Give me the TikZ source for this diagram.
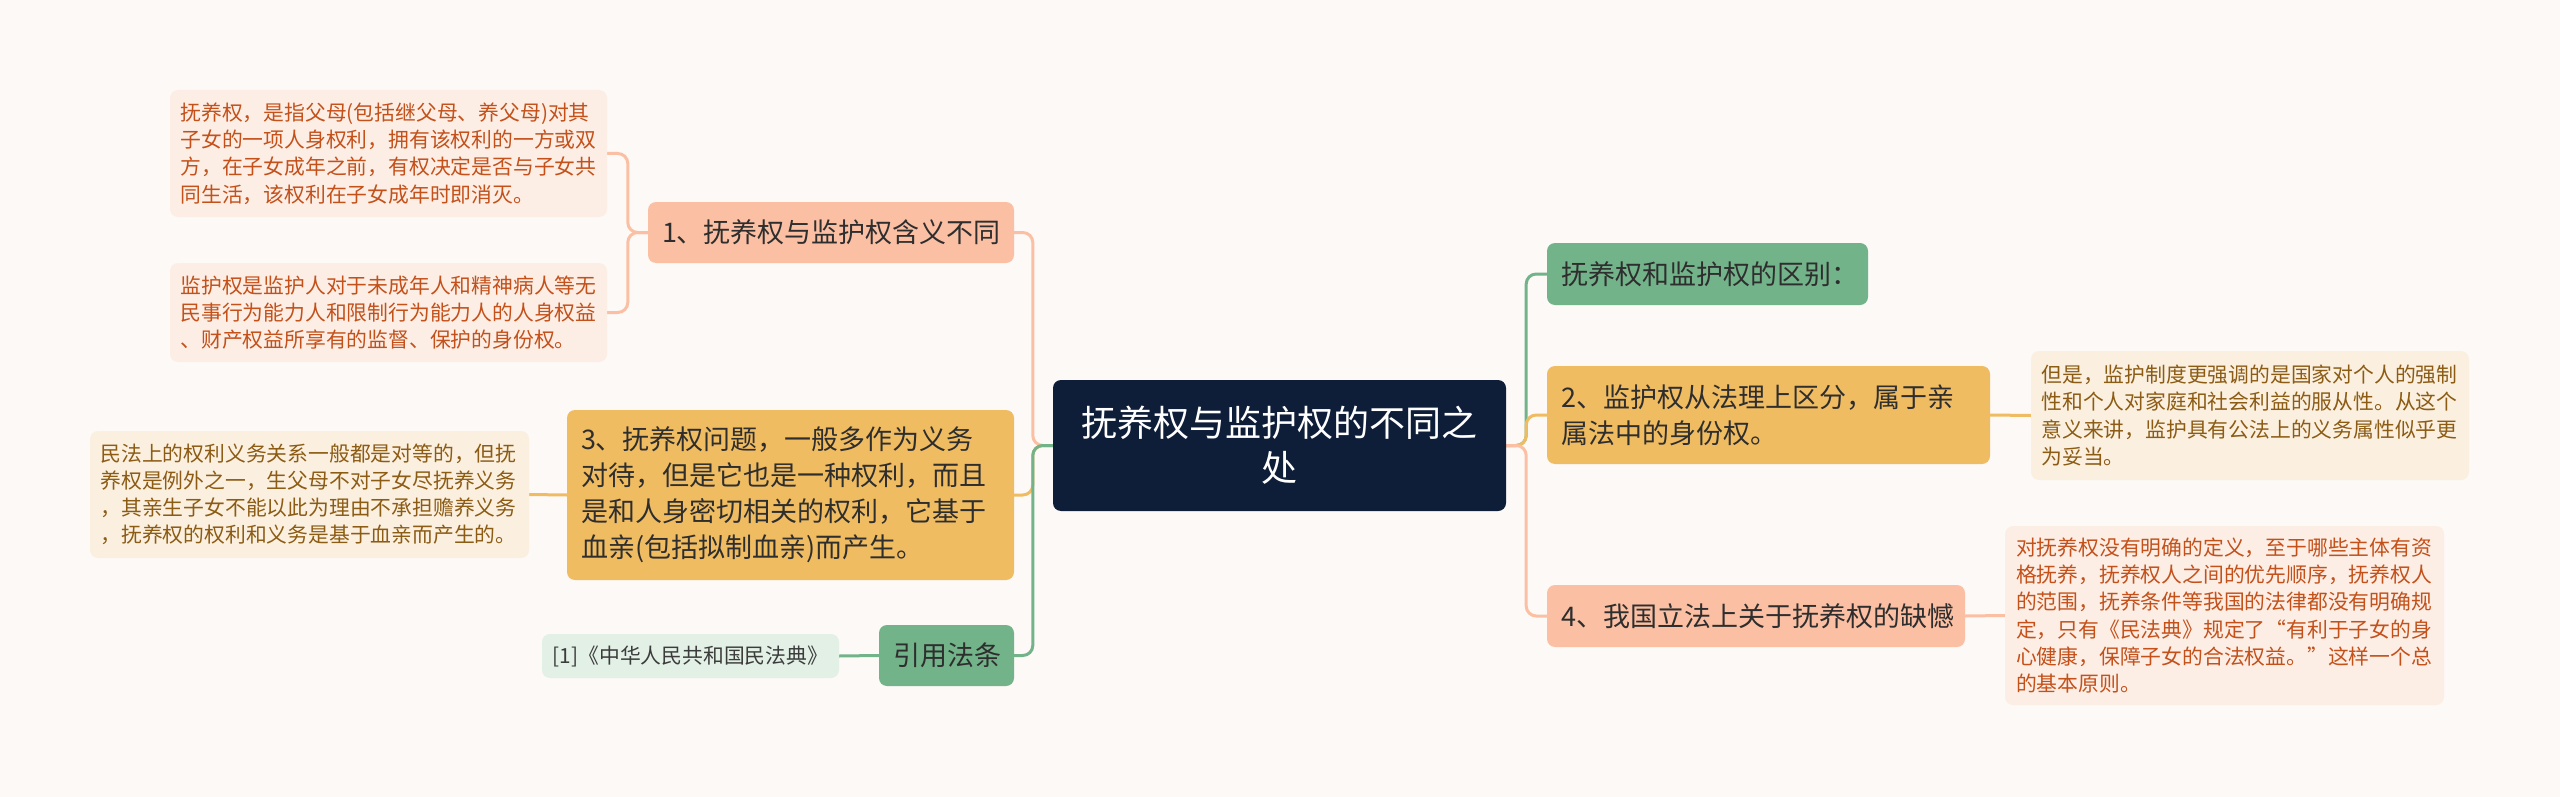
\documentclass[tikz,border=0pt]{standalone}
\usepackage{fontspec}
\newfontfamily\cjk{Noto Sans CJK SC}
\usetikzlibrary{backgrounds}
\definecolor{bg}{HTML}{FCF9F7}
\definecolor{navy}{HTML}{0E1D38}
\definecolor{grn}{HTML}{73B38A}
\definecolor{yel}{HTML}{F0BC62}
\definecolor{sal}{HTML}{FBC0A3}
\definecolor{nodetext}{HTML}{2E2E2E}
\definecolor{lfsalfill}{HTML}{FCEEE5}
\definecolor{lfsaltext}{HTML}{C4501A}
\definecolor{lfyelfill}{HTML}{FBF0DF}
\definecolor{lfyeltext}{HTML}{8C5B14}
\definecolor{lfgrnfill}{HTML}{E2F0E6}
\definecolor{lfgrntext}{HTML}{3C3C3C}
\tikzset{
  con/.style={line width=3pt, rounded corners=10pt},
  nb/.style={rounded corners=8pt, inner ysep=0pt, inner xsep=14pt, align=left,
    font={\cjk\fontsize{27}{36}\selectfont}, text=nodetext},
  lf/.style={rounded corners=8pt, inner ysep=0pt, inner xsep=10.5pt, align=left,
    font={\cjk\fontsize{20.8}{27.2}\selectfont}},
  lfsal/.style={lf, fill=lfsalfill, text=lfsaltext},
  lfyel/.style={lf, fill=lfyelfill, text=lfyeltext},
  lfgrn/.style={lf, fill=lfgrnfill, text=lfgrntext},
}
\begin{document}
\begin{tikzpicture}[x=1pt,y=-1pt]
\useasboundingbox (0,0) rectangle (2560,797);
% center
\node[rounded corners=8pt, fill=navy, text=white, align=center, inner sep=0pt,
  font={\cjk\fontsize{36}{45}\selectfont}, minimum width=453pt, minimum height=131pt]
  (C) at (1279.5,445.5) {抚养权与监护权的不同之\\处};
% right side
\node[nb, fill=grn, text width=293pt, minimum width=321pt, minimum height=62pt]
  (G1) at (1707.5,274) {抚养权和监护权的区别：};
\node[nb, fill=yel, text width=415pt, minimum width=443pt, minimum height=98pt]
  (N2) at (1768.5,415) {2、监护权从法理上区分，属于亲\\属法中的身份权。};
\node[nb, fill=sal, text width=390pt, minimum width=418pt, minimum height=62pt]
  (N4) at (1756,616) {4、我国立法上关于抚养权的缺憾};
\node[lfyel, text width=417pt, minimum width=438pt, minimum height=129pt]
  (L2) at (2250,415.5) {但是，监护制度更强调的是国家对个人的强制\\性和个人对家庭和社会利益的服从性。从这个\\意义来讲，监护具有公法上的义务属性似乎更\\为妥当。};
\node[lfsal, text width=417pt, minimum width=439pt, minimum height=179pt]
  (L4) at (2224.5,615.5) {对抚养权没有明确的定义，至于哪些主体有资\\格抚养，抚养权人之间的优先顺序，抚养权人\\的范围，抚养条件等我国的法律都没有明确规\\定，只有《民法典》规定了“有利于子女的身\\心健康，保障子女的合法权益。”这样一个总\\的基本原则。};
% left side
\node[nb, fill=sal, text width=338pt, minimum width=366pt, minimum height=61pt]
  (N1) at (831,232.5) {1、抚养权与监护权含义不同};
\node[lfsal, text width=416pt, minimum width=437pt, minimum height=127pt]
  (L1a) at (388.5,153.5) {抚养权，是指父母(包括继父母、养父母)对其\\子女的一项人身权利，拥有该权利的一方或双\\方，在子女成年之前，有权决定是否与子女共\\同生活，该权利在子女成年时即消灭。};
\node[lfsal, text width=416pt, minimum width=437pt, minimum height=99pt]
  (L1b) at (388.5,312.5) {监护权是监护人对于未成年人和精神病人等无\\民事行为能力人和限制行为能力人的人身权益\\、财产权益所享有的监督、保护的身份权。};
\node[nb, fill=yel, text width=419pt, minimum width=447pt, minimum height=170pt]
  (N3) at (790.5,495) {3、抚养权问题，一般多作为义务\\对待，但是它也是一种权利，而且\\是和人身密切相关的权利，它基于\\血亲(包括拟制血亲)而产生。};
\node[lfyel, text width=418pt, minimum width=439pt, minimum height=127pt]
  (L3) at (309.5,494.5) {民法上的权利义务关系一般都是对等的，但抚\\养权是例外之一，生父母不对子女尽抚养义务\\，其亲生子女不能以此为理由不承担赡养义务\\，抚养权的权利和义务是基于血亲而产生的。};
\node[nb, fill=grn, align=center, text width=107pt, minimum width=135pt, minimum height=61pt]
  (NR) at (946.5,655.5) {引用法条};
\node[lfgrn, align=center, text width=276pt, minimum width=297pt, minimum height=44pt]
  (LR) at (690.5,656) {[1]《中华人民共和国民法典》};
% connectors
\begin{scope}[on background layer]
\fill[bg] (0,0) rectangle (2560,797);
% right
\draw[con, grn] (C.east) -- ++(20,0) |- (G1.west);
\draw[con, yel] (C.east) -- ++(20,0) |- (N2.west);
\draw[con, sal] (C.east) -- ++(20,0) |- (N4.west);
\draw[con, yel] (N2.east) -- (L2.west);
\draw[con, sal] (N4.east) -- (L4.west);
% left
\draw[con, sal] (C.west) -- ++(-20,0) |- (N1.east);
\draw[con, yel] (C.west) -- ++(-20,0) |- (N3.east);
\draw[con, grn] (C.west) -- ++(-20,0) |- (NR.east);
\draw[con, sal] (N1.west) -- ++(-20,0) |- (L1a.east);
\draw[con, sal] (N1.west) -- ++(-20,0) |- (L1b.east);
\draw[con, yel] (N3.west) -- (L3.east);
\draw[con, grn] (NR.west) -- (LR.east);
\end{scope}
\end{tikzpicture}
\end{document}
